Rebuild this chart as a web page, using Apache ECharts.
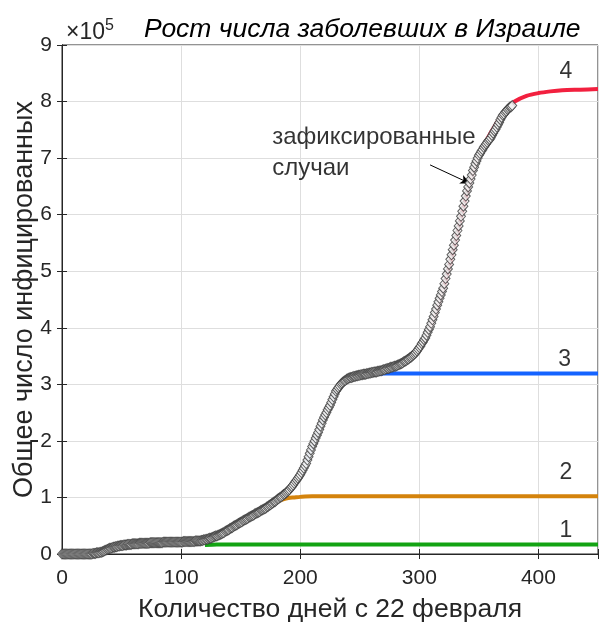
<!DOCTYPE html>
<html>
<head>
<meta charset="utf-8">
<script src="https://cdn.jsdelivr.net/npm/echarts@6/dist/echarts.min.js"></script>
<style>html,body{margin:0;padding:0;background:#fff;}#c{width:600px;height:626px;}</style>
</head>
<body>
<div id="c"></div>
<script>
// Recorded cases (units of 10^5), one value per day starting at day 0
const casesValues = [
0,0,0,0,0,0,0,0,0,0,
0,0,0,0,0,0,0,0,0,0,
0,0,0,0,0,0,0.01,0.01,0.01,0.02,
0.02,0.02,0.03,0.03,0.04,0.05,0.06,0.07,0.08,0.09,
0.10,0.10,0.11,0.12,0.12,0.13,0.13,0.14,0.14,0.15,
0.15,0.15,0.16,0.16,0.16,0.17,0.17,0.17,0.17,0.18,
0.18,0.18,0.18,0.18,0.18,0.19,0.19,0.19,0.19,0.19,
0.19,0.19,0.19,0.19,0.20,0.20,0.20,0.20,0.20,0.20,
0.20,0.20,0.20,0.20,0.20,0.21,0.21,0.21,0.21,0.21,
0.21,0.21,0.21,0.21,0.21,0.21,0.21,0.21,0.21,0.21,
0.21,0.21,0.22,0.22,0.22,0.22,0.22,0.22,0.22,0.22,
0.22,0.22,0.23,0.23,0.23,0.23,0.23,0.24,0.24,0.25,
0.25,0.26,0.26,0.27,0.28,0.28,0.29,0.30,0.31,0.32,
0.32,0.33,0.34,0.35,0.36,0.37,0.38,0.40,0.41,0.42,
0.43,0.45,0.46,0.47,0.49,0.50,0.51,0.52,0.54,0.55,
0.56,0.57,0.59,0.60,0.61,0.62,0.63,0.65,0.66,0.67,
0.68,0.69,0.71,0.72,0.73,0.74,0.75,0.77,0.78,0.79,
0.80,0.81,0.83,0.84,0.86,0.87,0.89,0.90,0.92,0.93,
0.95,0.97,0.98,1.00,1.01,1.03,1.05,1.06,1.08,1.10,
1.12,1.14,1.17,1.19,1.22,1.25,1.28,1.31,1.34,1.37,
1.40,1.44,1.48,1.52,1.56,1.60,1.66,1.72,1.78,1.84,
1.90,1.95,2.00,2.05,2.10,2.15,2.20,2.26,2.31,2.37,
2.42,2.46,2.50,2.55,2.59,2.63,2.68,2.73,2.78,2.83,
2.88,2.91,2.94,2.97,3.00,3.02,3.04,3.06,3.07,3.09,
3.10,3.11,3.12,3.12,3.13,3.14,3.14,3.15,3.15,3.16,
3.16,3.17,3.17,3.18,3.18,3.18,3.19,3.19,3.20,3.20,
3.21,3.21,3.22,3.22,3.22,3.23,3.23,3.24,3.24,3.25,
3.26,3.26,3.27,3.28,3.28,3.29,3.30,3.30,3.31,3.32,
3.32,3.33,3.34,3.35,3.36,3.37,3.38,3.40,3.41,3.42,
3.44,3.45,3.47,3.48,3.50,3.52,3.54,3.56,3.59,3.62,
3.65,3.68,3.72,3.75,3.79,3.82,3.87,3.92,3.97,4.02,
4.08,4.14,4.20,4.27,4.33,4.40,4.46,4.52,4.58,4.64,
4.70,4.78,4.87,4.95,5.04,5.12,5.21,5.29,5.38,5.46,
5.55,5.63,5.72,5.80,5.89,5.97,6.06,6.15,6.24,6.33,
6.42,6.49,6.56,6.63,6.70,6.78,6.84,6.90,6.95,7.00,
7.05,7.08,7.12,7.15,7.19,7.22,7.25,7.28,7.31,7.33,
7.36,7.40,7.44,7.48,7.51,7.55,7.59,7.63,7.68,7.72,
7.76,7.78,7.81,7.83,7.86,7.88,7.90,7.91,7.93
];

// Model curves (days / values in units of 10^5)
const model1Days = [120,130,150,200,300,400,450];
const model1Vals = [0.16,0.17,0.17,0.17,0.17,0.17,0.17];
const model2Days = [165,170,175,180,185,190,195,200,210,220,250,300,350,400,450];
const model2Vals = [0.73,0.79,0.86,0.92,0.96,0.99,1.00,1.01,1.02,1.02,1.02,1.02,1.02,1.02,1.02];
const model3Days = [200,205,210,215,220,225,230,235,240,245,250,260,270,300,450];
const model3Vals = [1.38,1.62,1.90,2.17,2.44,2.65,2.86,3.00,3.08,3.13,3.16,3.18,3.19,3.19,3.19];
const model4Days = [300,310,320,330,340,350,360,370,375,380,390,400,410,420,435,450];
const model4Vals = [3.60,4.05,4.68,5.50,6.38,7.05,7.45,7.78,7.90,8.00,8.10,8.15,8.18,8.20,8.21,8.22];

const curveLabels = ['1','2','3','4'];
const xTicks = [0,100,200,300,400];
const yTicks = [0,1,2,3,4,5,6,7,8,9];

const titleText = 'Рост числа заболевших в Израиле';
const xName = 'Количество дней с 22 февраля';
const yName = 'Общее число инфицированных';
const annoLines = ['зафиксированные','случаи'];

const FONT = '"Liberation Sans", Arial, sans-serif';
const AX = '#262626';

const chart = echarts.init(document.getElementById('c'), null, {renderer:'canvas'});

const zip = (a,b)=>a.map((d,i)=>[d,b[i]]);
const casesData = casesValues.map((v,i)=>[i,v]);

// annotation anchor positions in data coordinates
const labelPos = [[423,0.42],[423,1.43],[422,3.43],[423,8.52]];

const axisCommon = {
  min:0, axisLine:{show:true,lineStyle:{color:AX,width:1}},
  axisTick:{show:true,inside:true,length:5,lineStyle:{color:AX}},
};

const option = {
  animation:false,
  backgroundColor:'#fff',
  title:[
    {text:titleText, left:144, top:16, padding:0, textStyle:{fontFamily:FONT,fontSize:26.5,fontStyle:'italic',fontWeight:'normal',color:'#000'}},
    {text:'{b|×10}{s|5}', left:66, top:18, padding:0, textStyle:{fontFamily:FONT,fontSize:23,fontWeight:'normal',color:AX,
      rich:{b:{fontSize:23,fontFamily:FONT,color:AX,verticalAlign:'bottom'},
            s:{fontSize:16,verticalAlign:'top',fontFamily:FONT,color:AX,padding:[0,0,10,0]}}}}
  ],
  grid:{left:62, right:2, top:45, bottom:72, show:true, borderColor:AX, borderWidth:1,
    containLabel:false, outerBoundsMode:'none'},
  xAxis:[
    Object.assign({}, axisCommon, {type:'value', max:450, interval:100, position:'bottom',
      name:xName, nameLocation:'middle', nameGap:42, nameMoveOverlap:false,
      nameTextStyle:{fontFamily:FONT,fontSize:26.5,color:AX},
      axisLabel:{fontFamily:FONT,fontSize:21,color:AX,margin:14,
        customValues:xTicks},
      splitLine:{show:true,lineStyle:{color:'#dedede',width:1}}}),
    Object.assign({}, axisCommon, {type:'value', max:450, interval:100, position:'top',
      axisLabel:{show:false}, splitLine:{show:false}})
  ],
  yAxis:[
    Object.assign({}, axisCommon, {type:'value', max:9, interval:1, position:'left',
      name:yName, nameLocation:'middle', nameGap:24, nameMoveOverlap:false,
      nameTextStyle:{fontFamily:FONT,fontSize:27,color:AX},
      axisLabel:{fontFamily:FONT,fontSize:21,color:AX,margin:10},
      splitLine:{show:true,lineStyle:{color:'#dedede',width:1}}}),
    Object.assign({}, axisCommon, {type:'value', max:9, interval:1, position:'right',
      axisLabel:{show:false}, splitLine:{show:false}})
  ],
  series:[
    {type:'line', name:'m1', data:zip(model1Days,model1Vals), showSymbol:false, smooth:0.3, z:2,
      lineStyle:{color:'#13a313',width:4}},
    {type:'line', name:'m2', data:zip(model2Days,model2Vals), showSymbol:false, smooth:0.3, z:2,
      lineStyle:{color:'#d4830c',width:4}},
    {type:'line', name:'m3', data:zip(model3Days,model3Vals), showSymbol:false, smooth:0.3, z:2,
      lineStyle:{color:'#1463ff',width:4}},
    {type:'line', name:'m4', data:zip(model4Days,model4Vals), showSymbol:false, smooth:0.3, z:2,
      lineStyle:{color:'#f2203f',width:4}},
    {type:'scatter', name:'cases', data:casesData, symbol:'diamond', symbolSize:[9,10], z:5,
      itemStyle:{color:'#f4f4f4', borderColor:'#3a3a3a', borderWidth:1}},
    {type:'scatter', name:'labels', z:6, symbolSize:0,
      data:labelPos.map((p,i)=>({value:p, label:{formatter:curveLabels[i]}})),
      label:{show:true, position:'inside', fontFamily:FONT, fontSize:23, color:'#000'}},
    {type:'scatter', name:'anno', z:6, symbolSize:0,
      data:[{value:[176.5,7.36], label:{formatter:annoLines[0]}},{value:[176.5,6.82], label:{formatter:annoLines[1]}}],
      label:{show:true, position:'right', distance:0, align:'left', fontFamily:FONT, fontSize:24, color:'#000'},
      markLine:{silent:true, symbol:['none','arrow'], symbolSize:[7,10], label:{show:false},
        lineStyle:{color:'#000',width:1,type:'solid'},
        data:[[{coord:[309,6.88]},{coord:[342.7,6.55]}]]}}
  ]
};
chart.setOption(option);
</script>
</body>
</html>
